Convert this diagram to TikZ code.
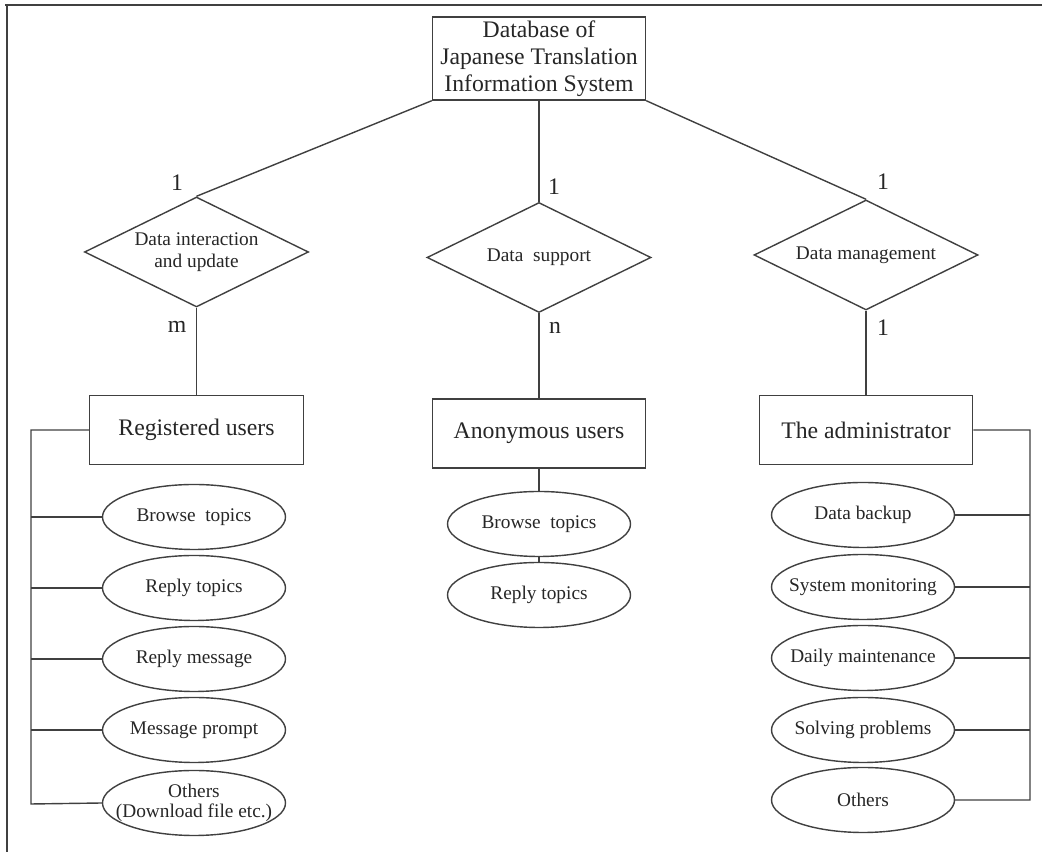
\documentclass[tikz,border=0pt]{standalone}
\usepackage{fontspec}
\setmainfont{Liberation Serif}
\usepackage{tikz}
\usetikzlibrary{positioning, calc, shapes.geometric}

\begin{document}
\begin{tikzpicture}[auto, thick, draw=black!75, text=black!85, node distance=1.42cm]

		% Define styles
		\tikzstyle{entity} = [rectangle, draw=black!75, text centered, minimum width=4.27cm, minimum height=1.38cm, font=\fontsize{13.5}{15.5}\selectfont]
		\tikzstyle{relation} = [diamond, draw=black!75, aspect=2, inner sep=0pt, align=center, minimum width=4.48cm, minimum height=2.2cm, font=\fontsize{11}{12.5}\selectfont]
		\tikzstyle{attribute} = [ellipse, draw=black!75, inner xsep=-0.5cm, inner ysep=0pt, align=center, minimum width=3.66cm, minimum height=1.3cm, font=\fontsize{11}{11.5}\selectfont]
		\tikzstyle{card} = [inner sep=0pt, font=\fontsize{13.5}{15}\selectfont]

		\useasboundingbox (0,0) rectangle (20.84,17.04);

		% Frame
		\draw (0.1,16.94) -- (20.84,16.94);
		\draw (0.14,16.94) -- (0.14,0);

		% Nodes
		\node[entity, align=center, minimum width=4.26cm, minimum height=1.66cm, inner sep=1pt] (db) at (10.78,15.87) {Database of\\Japanese Translation\\Information System};

		\node[relation] (interact) at (3.93,12.0) {Data interaction\\and update};
		\node[relation] (support) at (10.78,11.89) {Data\ \ support};
		\node[relation] (manage) at (17.32,11.94) {Data management};

		\node[entity] (registered) at (3.93,8.44) {Registered users};
		\node[entity] (anonymous) at (10.78,8.37) {Anonymous users};
		\node[entity] (admin) at (17.32,8.44) {The administrator};

		% Registered users
		\node[attribute] (rbrowse) at (3.88,6.70) {Browse\ \ topics};
		\node[attribute, below of=rbrowse] (rreply) {Reply topics};
		\node[attribute, below of=rreply] (rmessage) {Reply message};
		\node[attribute, below of=rmessage] (rprompt) {Message prompt};
		\node[attribute, below of=rprompt, node distance=1.46cm] (rothers) {Others\\(Download file etc.)};

		% Anonymous users
		\node[attribute] (abrowse) at (10.78,6.56) {Browse\ \ topics};
		\node[attribute, below of=abrowse] (areply) {Reply topics};

		% The administrator
		\node[attribute] (backup) at (17.26,6.74) {Data backup};
		\node[attribute, below of=backup, node distance=1.44cm] (monitor) {System monitoring};
		\node[attribute, below of=monitor] (daily) {Daily maintenance};
		\node[attribute, below of=daily, node distance=1.44cm] (solving) {Solving problems};
		\node[attribute, below of=solving, node distance=1.40cm] (aothers) {Others};

		% Cardinalities
		\node[card] (c1) at (3.54,13.38) {1};
		\node[card] (c2) at (11.08,13.30) {1};
		\node[card] (c3) at (17.66,13.40) {1};
		\node[card] (cm) at (3.54,10.50) {m};
		\node[card] (cn) at (11.10,10.48) {n};
		\node[card] (c4) at (17.66,10.48) {1};

		% Connectors
		\draw (db.south west) -- (interact.north);
		\draw (db.south -| support.north) -- (support.north);
		\draw (db.south east) -- (manage.north);
		\draw (interact.south) -- (registered.north);
		\draw (support.south) -- (anonymous.north);
		\draw (manage.south) -- (admin.north);

		\draw (anonymous.south) -- (abrowse.north);
		\draw (abrowse.south) -- (areply.north);

		% Left bus
		\coordinate (lbus) at (0.62,0.96);
		\draw (registered.west) -| (lbus) -- (rothers.west);
		\draw (rbrowse.west) -- (rbrowse.west -| lbus);
		\draw (rreply.west) -- (rreply.west -| lbus);
		\draw (rmessage.west) -- (rmessage.west -| lbus);
		\draw (rprompt.west) -- (rprompt.west -| lbus);

		% Right bus
		\coordinate (rbus) at (20.6,1.04);
		\draw (admin.east) -| (rbus) -- (aothers.east);
		\draw (backup.east) -- (backup.east -| rbus);
		\draw (monitor.east) -- (monitor.east -| rbus);
		\draw (daily.east) -- (daily.east -| rbus);
		\draw (solving.east) -- (solving.east -| rbus);

\end{tikzpicture}
\end{document}
